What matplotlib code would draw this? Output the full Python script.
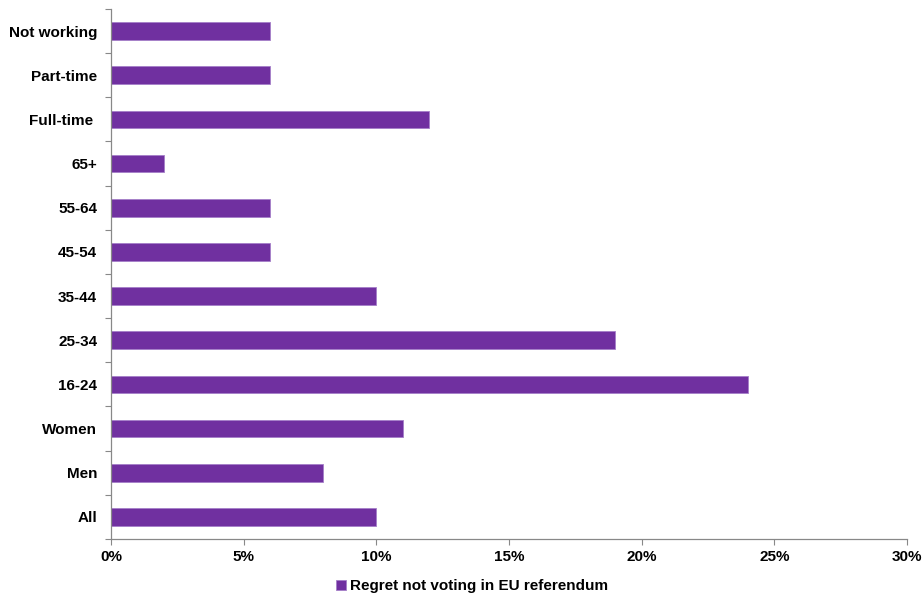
import matplotlib.pyplot as plt
import numpy as np
from matplotlib.ticker import FuncFormatter

# Data (bottom to top)
groups = ["All", "Men", "Women", "16-24", "25-34", "35-44", "45-54",
          "55-64", "65+", "Full-time ", "Part-time", "Not working"]
regret_pct = [10, 8, 11, 24, 19, 10, 6, 6, 2, 12, 6, 6]
series_name = "Regret not voting in EU referendum"

plt.rcParams['font.family'] = ['Liberation Sans', 'DejaVu Sans']

fig = plt.figure(figsize=(9.23, 5.99), dpi=100)
ax = fig.add_axes([0.1203, 0.1002, 0.8624, 0.8848])

y = np.arange(len(groups))
ax.barh(y, regret_pct, height=0.4, color='#7030A0', edgecolor='#A57FC8',
        linewidth=0.6, label=series_name)

ax.set_xlim(0, 30)
ax.set_ylim(-0.5, len(groups) - 0.5)
ax.set_xticks(np.arange(0, 31, 5))
ax.xaxis.set_major_formatter(FuncFormatter(lambda v, p: f"{v:.0f}%"))

ax.set_yticks(y)
ax.set_yticklabels(groups)
ax.set_yticks(np.arange(-0.5, len(groups), 1), minor=True)
ax.tick_params(axis='y', which='major', length=0, pad=10)
ax.tick_params(axis='y', which='minor', length=4, width=0.8, color='#888888')
ax.tick_params(axis='x', length=4, width=0.8, color='#888888', pad=4)

for lab in ax.get_xticklabels() + ax.get_yticklabels():
    lab.set_fontweight('bold')
    lab.set_fontsize(11)

for side in ['top', 'right']:
    ax.spines[side].set_visible(False)
for side in ['left', 'bottom']:
    ax.spines[side].set_color('#888888')
    ax.spines[side].set_linewidth(0.9)

leg = ax.legend(loc='center', bbox_to_anchor=(0.454, -0.089), frameon=False,
                prop={'weight': 'bold', 'size': 11}, handlelength=0.6,
                handleheight=0.6, handletextpad=0.3)

plt.savefig("out.png", dpi=100)
